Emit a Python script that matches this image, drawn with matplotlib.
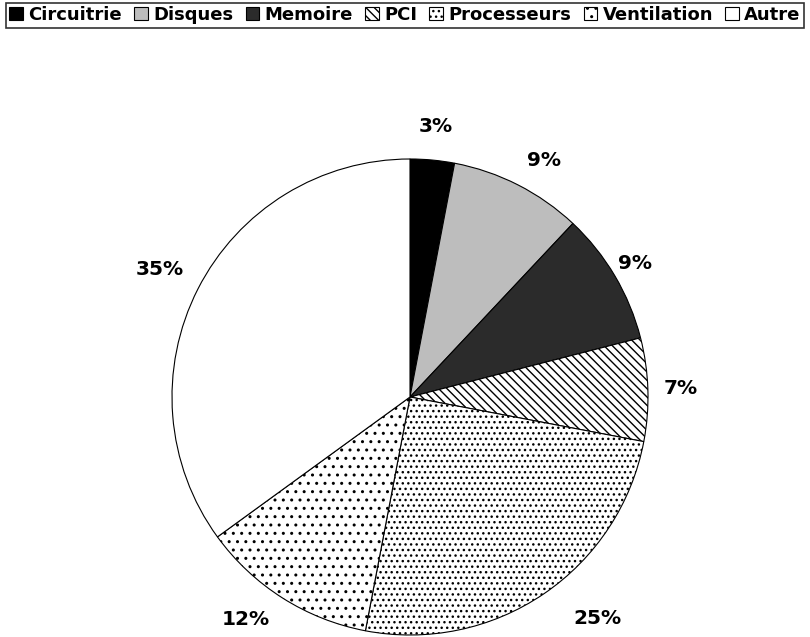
import numpy as np
import matplotlib.pyplot as plt

# share of failures per component
components = ['Circuitrie', 'Disques', 'Memoire', 'PCI', 'Processeurs', 'Ventilation', 'Autre']
shares = [3, 9, 9, 7, 25, 12, 35]

fills = ['black', '#bdbdbd', '#2b2b2b', 'white', 'white', 'white', 'white']
hatches = [None, None, None, '\\\\\\\\', '...', '..', None]
# where each percentage label goes: radial distance and angle nudge (degrees)
label_dist = [1.14, 1.14, 1.10, 1.14, 1.22, 1.16, 1.18]
label_turn = [0, -2.5, 0, 0, 6, -4, 0]

plt.rcParams['font.family'] = 'DejaVu Sans'
plt.rcParams['hatch.linewidth'] = 1.0

fig = plt.figure(figsize=(8.1, 6.37), dpi=100)
ax = fig.add_axes([172 / 810, 2 / 637, 476 / 810, 476 / 637])

wedges, texts, pcts = ax.pie(
    shares, startangle=90, counterclock=False, colors=fills,
    autopct='%d%%', pctdistance=1.0,
    wedgeprops=dict(edgecolor='black', linewidth=0.8),
    textprops=dict(fontsize=14.5, fontweight='bold'))
for w, h, t, d, da in zip(wedges, hatches, pcts, label_dist, label_turn):
    if h:
        w.set_hatch(h)
    ang = np.deg2rad((w.theta1 + w.theta2) / 2 + da)
    t.set_position((d * np.cos(ang), d * np.sin(ang)))
ax.set_xlim(-1, 1)
ax.set_ylim(-1, 1)
ax.set_aspect('equal')

leg = fig.legend(wedges, components, loc='upper center', bbox_to_anchor=(0.5, 0.996),
                 ncol=7, frameon=True, fancybox=False, edgecolor='black',
                 prop=dict(size=13, weight='bold'), handlelength=0.75, handleheight=0.75,
                 handletextpad=0.3, columnspacing=0.68, borderpad=0.2, borderaxespad=0)
leg.get_frame().set_linewidth(1.2)

fig.savefig('out.png', dpi=100)
